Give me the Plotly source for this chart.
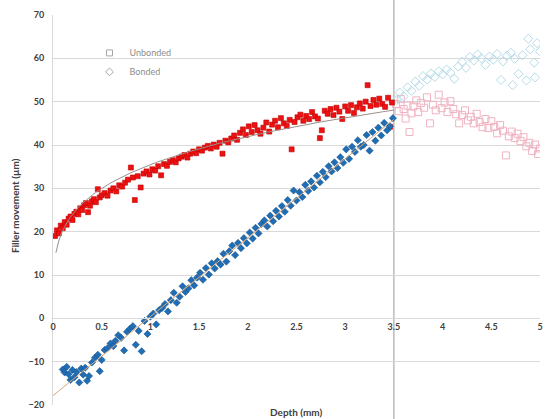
import numpy as np
import plotly.graph_objects as go

# ---------------- data ----------------
unb_depth = [0.02,0.04,0.06,0.08,0.10,0.12,0.14,0.16,0.18,0.20,0.22,0.24,0.26,0.28,0.30,0.32,0.34,0.36,0.38,0.40,
             0.42,0.44,0.46,0.48,0.50,0.53,0.56,0.59,0.62,0.65,0.68,0.71,0.74,0.77,0.80,0.82,0.84,0.87,0.90,0.93,
             0.96,0.99,1.02,1.05,1.08,1.11,1.14,1.17,1.20,1.23,1.26,1.29,1.32,1.35,1.38,1.41,1.44,1.47,1.50,1.53,
             1.56,1.59,1.62,1.65,1.68,1.71,1.74,1.77,1.80,1.83,1.86,1.89,1.92,1.95,1.98,2.01,2.04,2.07,2.10,2.13,
             2.16,2.19,2.22,2.25,2.28,2.31,2.34,2.37,2.40,2.43,2.45,2.48,2.51,2.54,2.57,2.60,2.63,2.66,2.69,2.72,
             2.74,2.76,2.79,2.82,2.85,2.88,2.91,2.94,2.97,3.00,3.03,3.06,3.09,3.12,3.15,3.18,3.21,3.23,3.26,3.29,
             3.32,3.35,3.38,3.41,3.44,3.46,3.48]
unb_move = [19.0,20.3,19.6,21.4,20.8,22.2,21.6,23.0,23.5,22.7,24.1,24.6,24.0,25.4,25.0,26.1,26.6,24.5,26.0,27.0,
            27.5,26.8,29.8,27.9,28.4,28.9,28.3,29.5,30.0,29.3,30.7,30.4,31.3,32.0,34.8,32.5,27.3,32.8,30.2,33.4,
            33.9,33.2,34.4,34.1,35.1,33.0,35.6,35.2,36.1,36.5,36.0,36.9,37.3,37.7,37.1,38.0,38.5,38.1,39.0,38.7,
            39.4,39.8,39.2,40.1,39.6,40.5,38.0,41.0,40.6,41.5,42.2,41.2,42.8,43.6,42.3,44.3,43.0,44.6,43.4,42.6,
            44.0,45.2,43.1,44.7,45.6,44.1,46.2,45.0,44.4,45.8,39.0,45.3,46.4,47.0,45.6,46.7,46.0,47.6,46.6,46.1,
            41.6,43.4,47.9,47.2,48.3,46.9,48.6,47.7,46.0,48.9,47.9,49.2,47.4,48.7,49.6,48.4,50.0,53.8,49.0,50.4,
            49.3,50.7,49.5,48.8,50.9,44.2,49.8]

bon_depth = [0.10,0.12,0.14,0.16,0.18,0.20,0.22,0.24,0.27,0.29,0.31,0.33,0.35,0.37,0.40,0.43,0.46,0.48,0.50,0.53,
             0.56,0.59,0.62,0.64,0.67,0.70,0.73,0.76,0.79,0.82,0.85,0.88,0.91,0.94,0.97,1.00,1.03,1.06,1.09,1.12,
             1.15,1.18,1.21,1.24,1.27,1.30,1.33,1.36,1.39,1.42,1.45,1.48,1.51,1.54,1.57,1.60,1.63,1.66,1.69,1.72,
             1.75,1.78,1.81,1.84,1.87,1.90,1.93,1.96,1.99,2.02,2.05,2.08,2.11,2.14,2.17,2.20,2.23,2.26,2.29,2.32,
             2.35,2.38,2.41,2.44,2.47,2.50,2.53,2.56,2.59,2.62,2.65,2.68,2.71,2.74,2.77,2.80,2.83,2.86,2.89,2.92,
             2.95,2.98,3.01,3.04,3.07,3.10,3.13,3.16,3.19,3.22,3.25,3.28,3.31,3.34,3.37,3.40,3.43,3.46,3.49]
bon_move = [-11.8,-12.5,-11.2,-12.9,-14.2,-11.9,-13.6,-12.4,-14.8,-11.6,-13.0,-11.4,-14.4,-13.3,-10.2,-9.1,-8.4,-12.2,-9.6,-7.3,
            -6.9,-5.8,-6.4,-5.2,-3.9,-4.5,-7.4,-3.1,-2.4,-1.8,-6.1,-2.9,-7.6,-0.6,-3.6,0.4,1.1,-1.4,1.9,2.4,
            3.3,1.6,4.2,5.9,3.6,5.0,7.4,6.1,6.9,8.8,7.6,9.4,10.5,8.9,11.6,10.1,12.7,11.5,13.2,12.4,
            14.9,13.1,15.5,16.8,14.6,17.4,16.2,18.5,17.3,19.8,18.4,20.9,19.6,21.8,22.6,21.2,23.7,22.4,24.8,23.5,
            25.9,24.6,27.3,26.0,29.5,27.2,29.1,28.0,30.8,29.4,31.6,30.2,32.9,31.4,33.8,32.6,35.1,33.9,36.0,34.7,
            37.2,35.9,39.0,36.8,39.6,38.4,41.1,39.6,40.0,42.3,38.7,43.0,41.0,44.0,42.2,45.1,43.4,44.3,46.2]

unb_depth_far = [3.52,3.55,3.57,3.60,3.62,3.64,3.66,3.68,3.70,3.73,3.75,3.78,3.81,3.84,3.87,3.90,3.93,3.96,3.99,4.02,
                 4.05,4.08,4.11,4.14,4.17,4.20,4.23,4.26,4.29,4.32,4.35,4.38,4.41,4.44,4.47,4.50,4.53,4.56,4.59,4.62,
                 4.65,4.68,4.71,4.74,4.77,4.80,4.83,4.86,4.89,4.92,4.95,4.98,5.00]
unb_move_far = [49.5,47.8,50.6,48.3,46.1,49.1,43.0,47.3,48.9,50.3,47.6,49.7,48.6,51.0,45.0,49.3,48.0,51.6,48.5,49.8,
                47.6,50.1,48.3,47.1,45.0,46.9,48.0,45.7,46.5,45.0,47.2,45.3,44.1,46.0,43.9,45.5,44.2,42.7,44.6,43.3,
                37.6,42.0,43.1,41.6,42.6,40.9,41.8,39.7,40.5,38.6,40.1,37.9,39.2]

bon_depth_far = [3.53,3.56,3.60,3.64,3.68,3.72,3.76,3.80,3.84,3.88,3.92,3.96,4.00,4.04,4.08,4.12,4.16,4.20,4.24,4.28,
                 4.32,4.36,4.40,4.44,4.48,4.52,4.56,4.60,4.62,4.66,4.70,4.72,4.74,4.78,4.82,4.86,4.88,4.90,4.94,4.95,
                 4.97,5.00]
bon_move_far = [50.4,52.1,51.2,53.3,52.5,54.6,53.7,55.9,55.1,56.5,55.7,57.0,56.3,57.4,56.7,55.3,58.1,59.2,57.8,60.3,
                59.5,60.9,60.0,58.5,60.4,59.7,61.0,55.0,59.3,60.6,61.3,53.8,59.9,56.4,60.7,54.9,64.5,62.1,59.0,55.6,
                63.5,61.6]

x_ticks = [0, 0.5, 1, 1.5, 2, 2.5, 3, 3.5, 4, 4.5, 5]
x_ticktext = ["0", "0.5", "1", "1.5", "2", "2.5", "3", "3.5", "4", "4.5", "5"]
y_ticks = [-20, -10, 0, 10, 20, 30, 40, 50, 60, 70]
x_range = [0, 5]
y_range = [-20, 70]
split_depth = 3.5

# ---------------- trend lines fitted to the data ----------------
ud = np.array(unb_depth); um = np.array(unb_move)
b_pow, ln_a = np.polyfit(np.log(ud), np.log(um), 1)
trend_x_u = np.linspace(0.03, split_depth, 120)
trend_y_u = np.exp(ln_a) * trend_x_u ** b_pow

bd = np.array(bon_depth); bm = np.array(bon_move)
slope, icpt = np.polyfit(bd, bm, 1)
trend_x_b = np.array([0.0, split_depth])
trend_y_b = icpt + slope * trend_x_b

FONT = "Lato"
TXT = "#404040"

fig = go.Figure()

# faded continuation beyond 3.5 mm
fig.add_trace(go.Scatter(x=unb_depth_far, y=unb_move_far, mode="markers", showlegend=False,
                         marker=dict(symbol="square-open", size=7, color="#f0b3c1", line=dict(width=1))))
fig.add_trace(go.Scatter(x=bon_depth_far, y=bon_move_far, mode="markers", showlegend=False,
                         marker=dict(symbol="diamond-open", size=7, color="#b4dbe8", line=dict(width=1))))

# main data
fig.add_trace(go.Scatter(x=unb_depth, y=unb_move, mode="markers", showlegend=False,
                         marker=dict(symbol="square", size=5, color="#ee1111", line=dict(width=0.6, color="#c00000"))))
fig.add_trace(go.Scatter(x=bon_depth, y=bon_move, mode="markers", showlegend=False,
                         marker=dict(symbol="diamond", size=5.5, color="#1f6db5", line=dict(width=0.6, color="#17548c"))))

# trend lines
fig.add_trace(go.Scatter(x=trend_x_u, y=trend_y_u, mode="lines", showlegend=False,
                         line=dict(color="#9a8f8a", width=1)))
fig.add_trace(go.Scatter(x=trend_x_b, y=trend_y_b, mode="lines", showlegend=False,
                         line=dict(color="#d9a77a", width=1)))

# legend entries
fig.add_trace(go.Scatter(x=[None], y=[None], mode="markers", name="Unbonded",
                         marker=dict(symbol="square-open", size=6, color="#a6a6a6")))
fig.add_trace(go.Scatter(x=[None], y=[None], mode="markers", name="Bonded",
                         marker=dict(symbol="diamond-open", size=6, color="#a6a6a6")))

fig.add_shape(type="line", xref="x", yref="paper", x0=split_depth, x1=split_depth, y0=-0.05, y1=1.05,
              line=dict(color="#9a9a9a", width=1), layer="below")

zero_pos = (0 - y_range[0]) / (y_range[1] - y_range[0])

fig.update_layout(
    width=545, height=419,
    margin=dict(l=53, r=2, t=15, b=14),
    paper_bgcolor="white", plot_bgcolor="white",
    font=dict(family=FONT, size=9, color=TXT),
    xaxis=dict(range=x_range, tickvals=x_ticks, ticktext=x_ticktext, anchor="free", position=zero_pos,
               showgrid=False, zeroline=False, showline=True, linecolor="#d9d9d9", linewidth=1,
               ticks="", ticklabeloverflow="allow",
               tickfont=dict(family=FONT, size=9, color=TXT, weight="bold")),
    yaxis=dict(range=y_range, tickvals=y_ticks, showgrid=True, gridcolor="#d9d9d9", gridwidth=1,
               zeroline=False, showline=True, linecolor="#d9d9d9", ticks="", ticklabelstandoff=6,
               tickfont=dict(family=FONT, size=9, color=TXT, weight="bold")),
    legend=dict(x=0.075, y=0.94, xanchor="left", yanchor="top", bgcolor="rgba(0,0,0,0)",
                font=dict(family=FONT, size=9, color="#8c8c8c")),
    annotations=[
        dict(text="Filler movement (µm)", xref="paper", yref="paper", x=0, y=0.51, xshift=-38,
             textangle=-90, showarrow=False, xanchor="center", yanchor="middle",
             font=dict(family=FONT, size=10, color=TXT, weight="bold")),
        dict(text="Depth (mm)", xref="paper", yref="paper", x=0.5, y=0, yshift=-7,
             showarrow=False, xanchor="center", yanchor="middle",
             font=dict(family=FONT, size=10, color=TXT, weight="bold")),
    ],
)

fig.write_html("out.html")
